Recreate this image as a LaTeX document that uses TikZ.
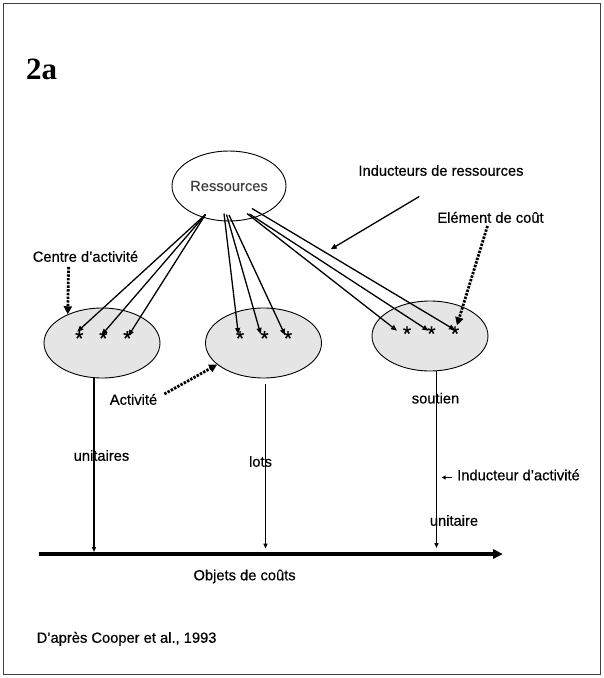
\documentclass[tikz,border=0pt]{standalone}
\usepackage{fontspec}
\setmainfont{Liberation Sans}[FakeBold=0.5]
\newfontfamily\titlefont{Liberation Serif}
\usetikzlibrary{shapes.geometric,arrows.meta,calc}
\begin{document}
\begin{tikzpicture}[x=1pt,y=-1pt,
  lbl/.style={font=\fontsize{14.7}{16}\selectfont, inner sep=0pt, text height=0.75em, text depth=0.2em},
  actell/.style={ellipse, draw, fill=black!10, minimum width=116pt, minimum height=70pt, inner sep=0pt, line width=0.9pt},
  staru/.style={font=\fontsize{21}{21}\selectfont, inner sep=0pt, text height=15.08pt, text depth=-9.05pt},
  resarrow/.style={-{Triangle[length=6pt,width=5pt]}, line width=1.3pt},
  dotarrow/.style={line width=2.8pt, dash pattern=on 2.4pt off 1.3pt, -{Triangle[length=8pt,width=8pt]}},
  vline/.style={line width=1.3pt, -{Triangle[length=5pt,width=4pt]}},
]
\useasboundingbox (0,0) rectangle (604,678);
\draw[line width=1pt, black!75] (3.5,3.5) rectangle (600.5,674.5);

% title
\node[font=\titlefont\bfseries\fontsize{31}{31}\selectfont, inner sep=0pt, anchor=base west] (title) at (26,79) {2a};

% resources
\node[ellipse, draw, line width=0.9pt, minimum width=114pt, minimum height=70pt, inner sep=0pt,
      font=\fontsize{14.7}{16}\selectfont, text=black!75] (res) at (229,186) {Ressources};

% activity centres
\node[actell] (c1) at (102,343) {};
\node[actell] (c2) at (263.5,343) {};
\node[actell] (c3) at (430,336) {};

% stars (cost elements)
\node[staru] (s11) at (79.3,338) {*};
\node[staru] (s12) at (103.3,338) {*};
\node[staru] (s13) at (127.3,338) {*};
\node[staru] (s21) at (240,338) {*};
\node[staru] (s22) at (264.5,338) {*};
\node[staru] (s23) at (288,338) {*};
\node[staru] (s31) at (407,333.3) {*};
\node[staru] (s32) at (431.5,333.3) {*};
\node[staru] (s33) at (455,333.3) {*};

% resource drivers
\coordinate (rA) at (205.5,214.5);
\coordinate (rB1) at (224,213.5);
\coordinate (rB2) at (226.5,214.5);
\coordinate (rB3) at (229,215);
\coordinate (rC1) at (247,213.5);
\coordinate (rC2) at (249.5,214);
\coordinate (rC3) at (252,208.5);
\draw[resarrow] (rA) -- ($(s11)+(-2,-6.3)$);
\draw[resarrow] (rA) -- ($(s12)+(-1.6,-3)$);
\draw[resarrow] (rA) -- ($(s13)+(1,-2)$);
\draw[resarrow] (rB1) -- ($(s21)+(-1.7,-4)$);
\draw[resarrow] (rB2) -- ($(s22)+(-3.8,-4)$);
\draw[resarrow] (rB3) -- ($(s23)+(-3,-3)$);
\draw[resarrow] (rC1) -- ($(s31)+(-10,-2.6)$);
\draw[resarrow] (rC2) -- ($(s32)+(-3,-2.6)$);
\draw[resarrow] (rC3) -- ($(s33)+(0,-3.3)$);

% labels
\node[lbl] (ir) at (441,173) {Inducteurs de ressources};
\node[lbl] (ec) at (490.5,220) {Elément de coût};
\node[lbl] (ca) at (85.5,259) {Centre d'activité};
\node[lbl] (act) at (133.5,402) {Activité};

\coordinate (irs) at (419.3,196.5);
\coordinate (irt) at (330.7,249.3);
\draw[resarrow] (irs) -- (irt);

\draw[dotarrow] ($(ca.south)+(-17,3)$) -- (c1.140);
\draw[dotarrow] ($(ec.south)+(-3,1)$) -- ($(s33)+(2,-8)$);
\draw[dotarrow] ($(act.east)+(7,-8)$) -- (c2.205);

% cost objects axis
\coordinate (axL) at (38.5,554);
\coordinate (axR) at (503,554);
\draw[line width=3.2pt, -{Triangle[length=10pt,width=9pt]}] (axL) -- (axR);

% activity drivers
\coordinate (v1t) at (94,377.8);
\coordinate (v1b) at (94,552);
\coordinate (v2t) at (265.5,384);
\coordinate (v2b) at (265.5,548.6);
\coordinate (v3t) at (436.5,371);
\coordinate (v3b) at (436.5,548);
\draw[vline] (v1t) -- (v1b);
\draw[vline] (v2t) -- (v2b);
\draw[vline] (v3t) -- (v3b);

\node[lbl] (uns) at (101.5,458) {unitaires};
\node[lbl] (lots) at (260.5,464) {lots};
\node[lbl] (sout) at (435.5,400.7) {soutien};
\node[lbl, anchor=west] (ia) at (457,477.5) {Inducteur d'activité};
\node[lbl] (un) at (454,523) {unitaire};
\draw[line width=1.1pt, -{Triangle[length=4pt,width=4pt]}] ($(ia.west)+(-5,0)$) -- ($(ia.west)+(-15.3,0)$);

\node[lbl] (obj) at (244.6,577.5) {Objets de coûts};
\node[lbl, anchor=west] (src) at (36.5,640) {D'après Cooper et al., 1993};
\end{tikzpicture}
\end{document}
